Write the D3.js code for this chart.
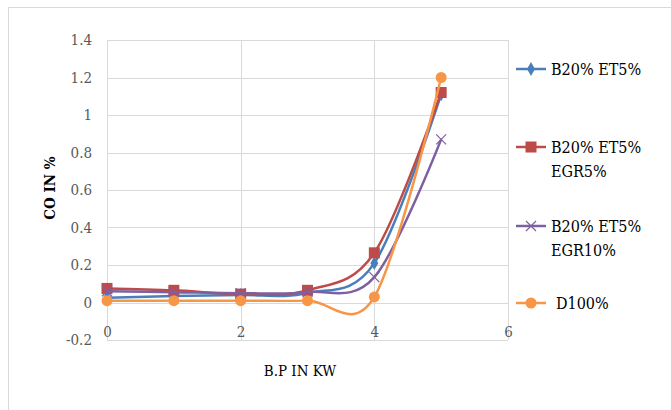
<!DOCTYPE html>
<html>
<head>
<meta charset="utf-8">
<script src="https://cdn.jsdelivr.net/npm/d3@7"></script>
<style>
  html, body { margin: 0; padding: 0; background: #fff; }
  svg { display: block; }
  svg text { font-family: "DejaVu Serif Condensed", "DejaVu Serif", serif; }
</style>
</head>
<body>
<svg id="chart" width="671" height="410"></svg>
<script>
// Brake power (kW) on the x axis
const brakePower = [0, 1, 2, 3, 4, 5];

// CO emissions (%) for each fuel blend
const coB20ET5 = [0.025, 0.035, 0.04, 0.05, 0.21, 1.11];
const coB20ET5EGR5 = [0.075, 0.065, 0.045, 0.065, 0.265, 1.12];
const coB20ET5EGR10 = [0.06, 0.055, 0.05, 0.055, 0.135, 0.87];
const coD100 = [0.01, 0.01, 0.01, 0.01, 0.03, 1.2];

const seriesNames = [["B20% ET5%"], ["B20% ET5%", "EGR5%"], ["B20% ET5%", "EGR10%"], ["D100%"]];
const seriesColors = ["#4a7ebb", "#be4b48", "#7d60a0", "#f79646"];
const seriesMarkers = ["diamond", "square", "cross", "circle"];
const seriesValues = [coB20ET5, coB20ET5EGR5, coB20ET5EGR10, coD100];

const xTicks = [0, 2, 4, 6];
const yTicks = [-0.2, 0, 0.2, 0.4, 0.6, 0.8, 1, 1.2, 1.4];

const svg = d3.select("#chart");

// outer chart frame
svg.append("rect")
  .attr("x", 8.5).attr("y", 7.5)
  .attr("width", 720).attr("height", 420)
  .attr("fill", "#fff").attr("stroke", "#d9d9d9").attr("stroke-width", 1);

const x = d3.scaleLinear().domain([0, 6]).range([107, 508]);
const y = d3.scaleLinear().domain([-0.2, 1.4]).range([340, 40]);

// gridlines
const grid = svg.append("g").attr("stroke", "#d9d9d9").attr("stroke-width", 1);
grid.selectAll("line.h").data(yTicks).join("line")
  .attr("x1", x(0)).attr("x2", x(6))
  .attr("y1", d => Math.round(y(d)) + 0.5).attr("y2", d => Math.round(y(d)) + 0.5);
grid.selectAll("line.v").data(xTicks).join("line")
  .attr("y1", y(1.4)).attr("y2", y(-0.2))
  .attr("x1", d => Math.round(x(d)) + 0.5).attr("x2", d => Math.round(x(d)) + 0.5);

// y axis tick labels
const yAxis = d3.axisLeft(y).tickValues(yTicks).tickSize(0).tickPadding(0)
  .tickFormat(d => String(Math.round(d * 10) / 10));
svg.append("g").attr("transform", "translate(92,0)").call(yAxis)
  .attr("font-family", null)
  .call(g => g.select(".domain").remove())
  .call(g => g.selectAll("text").attr("font-size", 15).attr("fill", "#595959"));

// x axis tick labels
const xAxis = d3.axisBottom(x).tickValues(xTicks).tickSize(0).tickPadding(0)
  .tickFormat(d => String(d));
svg.append("g").attr("transform", "translate(0,326)").call(xAxis)
  .attr("font-family", null)
  .call(g => g.select(".domain").remove())
  .call(g => g.selectAll("text").attr("font-size", 15).attr("fill", "#595959"));

// axis titles
svg.append("text")
  .attr("transform", "translate(50,188) rotate(-90)")
  .attr("dy", "0.35em")
  .attr("text-anchor", "middle")
  .attr("font-size", 15).attr("font-weight", "bold")
  .attr("fill", "#000")
  .text("CO IN %");
svg.append("text")
  .attr("x", 300).attr("y", 376)
  .attr("text-anchor", "middle")
  .attr("font-size", 15)
  .attr("fill", "#000")
  .text("B.P IN KW");

// smoothed line generator
const line = d3.line()
  .x((d, i) => x(brakePower[i]))
  .y(d => y(d))
  .curve(d3.curveCardinal.tension(0));

function drawMarker(g, type, color, cx, cy) {
  if (type === "diamond") {
    g.append("path").attr("d", d3.symbol(d3.symbolDiamond, 55)())
      .attr("transform", `translate(${cx},${cy})`).attr("fill", color);
  } else if (type === "square") {
    g.append("rect").attr("x", cx - 5.5).attr("y", cy - 5.5)
      .attr("width", 11).attr("height", 11).attr("fill", color);
  } else if (type === "cross") {
    g.append("path").attr("d", `M${cx - 5},${cy - 5}L${cx + 5},${cy + 5}M${cx - 5},${cy + 5}L${cx + 5},${cy - 5}`)
      .attr("stroke", color).attr("stroke-width", 1.2).attr("fill", "none");
  } else {
    g.append("circle").attr("cx", cx).attr("cy", cy).attr("r", 5.5).attr("fill", color);
  }
}

seriesValues.forEach((vals, si) => {
  const g = svg.append("g");
  g.append("path").datum(vals)
    .attr("d", line)
    .attr("fill", "none")
    .attr("stroke", seriesColors[si])
    .attr("stroke-width", 2.5)
    .attr("stroke-linejoin", "round");
  vals.forEach((v, i) => drawMarker(g, seriesMarkers[si], seriesColors[si], x(brakePower[i]), y(v)));
});

// legend
const legendY = [69, 147, 226, 303];
seriesNames.forEach((lines, si) => {
  const g = svg.append("g");
  const ly = legendY[si];
  g.append("line").attr("x1", 516).attr("x2", 546).attr("y1", ly).attr("y2", ly)
    .attr("stroke", seriesColors[si]).attr("stroke-width", 2.5);
  drawMarker(g, seriesMarkers[si], seriesColors[si], 531, ly);
  const t = g.append("text")
    .attr("font-size", 16).attr("fill", "#000");
  lines.forEach((s, k) => {
    t.append("tspan").attr("x", si === 3 ? 556 : 551).attr("y", ly + 6 + k * 24).text(s);
  });
});
</script>
</body>
</html>
